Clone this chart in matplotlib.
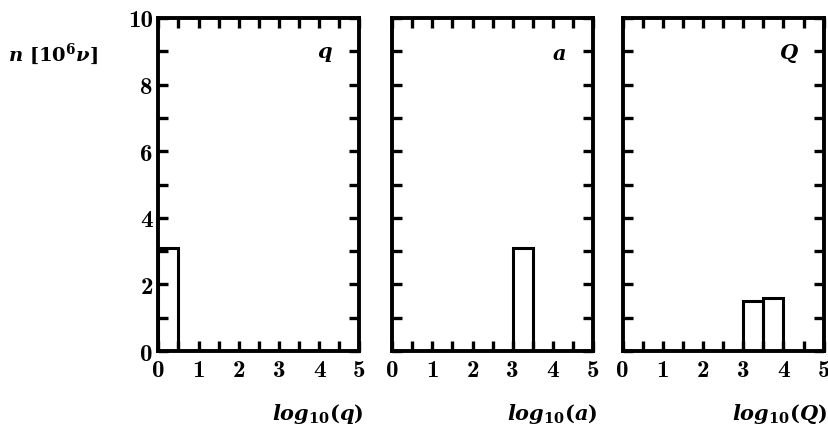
import numpy as np
import matplotlib
matplotlib.use("Agg")
import matplotlib.pyplot as plt

# Histogrammes (largeur de classe 0.5 en log10)
q_left = [0.0]
q_counts = [3.1]
a_left = [3.0]
a_counts = [3.1]
Q_left = [3.0, 3.5]
Q_counts = [1.5, 1.6]
bin_width = 0.5

panel_names = ["q", "a", "Q"]
x_labels = [r"$log_{10}(q)$", r"$log_{10}(a)$", r"$log_{10}(Q)$"]
x_ticklabels = ["0", "1", "2", "3", "4", "5"]
y_ticklabels = ["0", "2", "4", "6", "8", "10"]

plt.rcParams["mathtext.fontset"] = "custom"
plt.rcParams["mathtext.it"] = "DejaVu Serif:italic:bold"
plt.rcParams["mathtext.rm"] = "DejaVu Serif:bold"
plt.rcParams["mathtext.bf"] = "DejaVu Serif:bold"

fig = plt.figure(figsize=(8.29, 4.31), dpi=100)
lefts = [0.191, 0.473, 0.751]
data = [(q_left, q_counts), (a_left, a_counts), (Q_left, Q_counts)]

for i, (left, counts) in enumerate(data):
    ax = fig.add_axes([lefts[i], 0.183, 0.2425, 0.773])
    ax.bar(left, counts, width=bin_width, align="edge", fill=False,
           edgecolor="black", linewidth=2.2)
    ax.set_xlim(0, 5)
    ax.set_ylim(0, 10)
    for s in ax.spines.values():
        s.set_linewidth(2.8)
    ax.set_xticks(np.arange(0, 5.01, 0.5))
    ax.set_yticks(np.arange(0, 10.01, 1))
    ax.set_xticklabels([x_ticklabels[int(t)] if t % 1 == 0 else "" for t in np.arange(0, 5.01, 0.5)],
                       fontfamily="cmb10", fontsize=18)
    if i == 0:
        ax.set_yticklabels([y_ticklabels[int(t) // 2] if t % 2 == 0 else "" for t in np.arange(0, 10.01, 1)],
                           fontfamily="cmb10", fontsize=18)
    else:
        ax.set_yticklabels([])
    ax.tick_params(direction="in", length=7, width=2.4, top=True, right=True, pad=6)
    ax.tick_params(axis="y", pad=4)
    ax.text(4.15, 8.95, "$" + panel_names[i] + "$", fontsize=15, ha="center", va="center")
    ax.text(1.02, -0.185, x_labels[i], transform=ax.transAxes, fontsize=15,
            ha="right", va="center")

fig.text(0.01, 0.873, r"$n\ [\mathbf{10}^{\mathbf{6}}\nu]$", fontsize=14, ha="left", va="center")

fig.savefig("out.png", dpi=100)
